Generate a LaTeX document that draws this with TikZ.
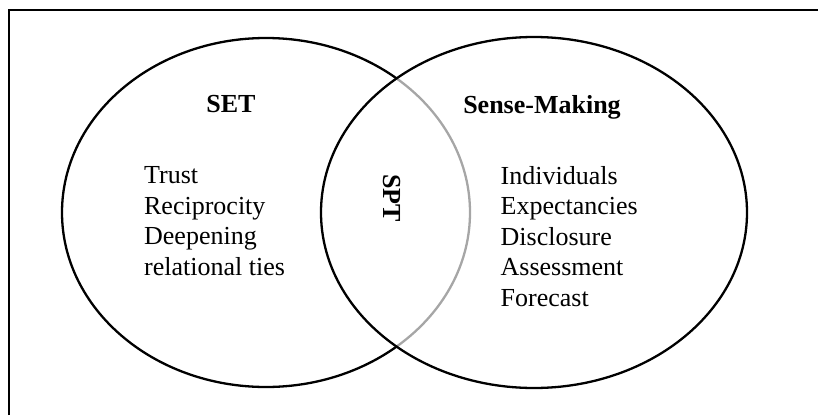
\documentclass[tikz,border=0pt]{standalone}
\usepackage{fontspec}
\setmainfont{Liberation Serif}
\usetikzlibrary{calc,positioning}

\begin{document}
\begin{tikzpicture}[x=1pt,y=-1pt,line width=2.3pt,
  label text/.style={font=\fontsize{26}{30.5}\selectfont\bfseries,inner sep=0pt},
  item list/.style={font=\fontsize{26}{30.5}\selectfont,align=left,inner sep=0pt,anchor=north west}]

    \useasboundingbox (0,0) rectangle (818,415);

    % frame, only top and left side show
    \draw (9.3,415) |- (818,10);

    \coordinate (SETc) at (266,212.5);
    \coordinate (SMc) at (534,212.5);

    % SET ring, black outside the other ring
    \begin{scope}[even odd rule]
      \clip (0,0) rectangle (818,415)
        (SMc) ellipse [x radius=213, y radius=175.5];
      \draw (SETc) ellipse [x radius=204, y radius=174.5];
    \end{scope}
    % ... and grey where it runs inside
    \begin{scope}
      \clip (SMc) ellipse [x radius=213, y radius=175.5];
      \draw[gray!70] (SETc) ellipse [x radius=204, y radius=174.5];
    \end{scope}

    % Sense-Making ring
    \draw (SMc) ellipse [x radius=213, y radius=175.5];

    \node[label text,anchor=base] (set) at (231,112) {SET};
    \node[label text,anchor=base] (sm) at (542,113) {Sense-Making};
    \node[label text,rotate=-90] (spt) at (392,198) {SPT};

    \node[item list] (setlist) at (143,165.5)
      {Trust\\Reciprocity\\Deepening\\relational ties};
    \node[item list] (smlist) at (499.5,165)
      {Individuals\\Expectancies\\Disclosure\\Assessment\\Forecast};

\end{tikzpicture}
\end{document}
